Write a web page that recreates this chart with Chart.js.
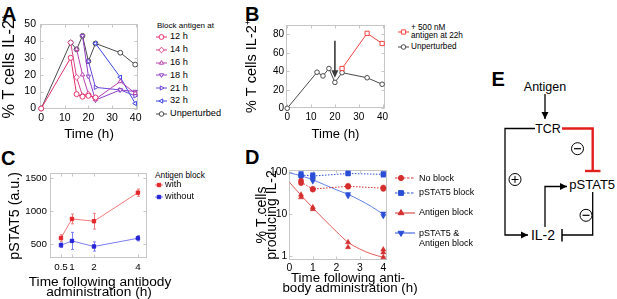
<!DOCTYPE html>
<html>
<head>
<meta charset="utf-8">
<title>IL-2 and pSTAT5 panels</title>
<script src="https://cdn.jsdelivr.net/npm/chart.js@4.4.1/dist/chart.umd.min.js"></script>
<style>
  html, body { margin: 0; padding: 0; background: #fff; }
  body { position: relative; width: 617px; height: 299px; overflow: hidden;
         font-family: 'Liberation Sans', Arial, Helvetica, sans-serif; color: #000; }
  canvas, svg, .t { position: absolute; }
  .t { white-space: nowrap; }
  .panel { position: absolute; font-weight: bold; font-size: 20px; line-height: 20px; }
</style>
</head>
<body>
<div class="panel" style="left:2px;top:4px">A</div>
<div class="panel" style="left:245px;top:4px">B</div>
<div class="panel" style="left:1px;top:147.5px">C</div>
<div class="panel" style="left:245px;top:147px">D</div>
<div class="panel" style="left:491.5px;top:69px">E</div>

<svg width="617" height="299" style="left:0;top:0" font-family="Liberation Sans, Arial, sans-serif">
  <defs>
    <marker id="ah" viewBox="0 0 10 10" refX="10" refY="5" markerWidth="5.5" markerHeight="5.5" orient="auto">
      <path d="M0,0 L10,5 L0,10 z" fill="#000"/>
    </marker>
  </defs>
  <text x="545" y="90.5" font-size="12.5" text-anchor="middle">Antigen</text>
  <line x1="545" y1="94" x2="545" y2="119" stroke="#000" stroke-width="1.3" marker-end="url(#ah)"/>
  <text x="548" y="132.5" font-size="12.5" text-anchor="middle">TCR</text>
  <path d="M535,128.5 H505 V235 H528" fill="none" stroke="#000" stroke-width="1.3" marker-end="url(#ah)"/>
  <circle cx="515" cy="179.5" r="6" fill="#fff" stroke="#000" stroke-width="1"/>
  <path d="M511.5,179.5 H518.5 M515,176 V183" stroke="#000" stroke-width="1"/>
  <path d="M562,128.5 H592.7 V171" fill="none" stroke="#e3211c" stroke-width="2.4"/>
  <path d="M585,171 H600.5" stroke="#e3211c" stroke-width="2.4"/>
  <circle cx="577.5" cy="148.7" r="6" fill="#fff" stroke="#000" stroke-width="1"/>
  <path d="M574,148.7 H581" stroke="#000" stroke-width="1.2"/>
  <text x="569.3" y="189" font-size="13">pSTAT5</text>
  <path d="M545,227 V186.5 H567" fill="none" stroke="#000" stroke-width="1.3" marker-end="url(#ah)"/>
  <path d="M592.7,192 V235 H562" fill="none" stroke="#000" stroke-width="1.3"/>
  <path d="M562,229 V241.5" stroke="#000" stroke-width="1.5"/>
  <circle cx="586" cy="215.3" r="6" fill="#fff" stroke="#000" stroke-width="1"/>
  <path d="M582.5,215.3 H589.5" stroke="#000" stroke-width="1.2"/>
  <text x="543" y="240" font-size="14" text-anchor="middle">IL-2</text>
</svg>

<script>
Chart.defaults.font.family = "'Liberation Sans', Arial, Helvetica, sans-serif";
Chart.defaults.color = '#000';

// ---------- A / B: % T cells IL-2+ over time ----------
const timeUnpert = [0, 12.5, 15, 17.5, 20, 23, 33.5, 39.8];
const unperturbed = [0, 39, 35, 43, 28, 38.5, 33, 26];

const block12Time = [0, 12.5, 15, 17.5, 20, 23];
const block12 = [0, 30, 8.5, 7, 7.5, 6.5];
const block14Time = [12.5, 15, 17.5, 20, 23];
const block14 = [39, 18.5, 7.5, 8.5, 6];
const block16Time = [15, 17.5, 20, 23, 33.5, 39.8];
const block16 = [35, 20, 8.5, 5.5, 16, 9];
const block18Time = [17.5, 20, 23, 33.5, 39.8];
const block18 = [43, 19, 5, 11, 10];
const block21Time = [20, 23, 33.5, 39.8];
const block21 = [28, 12.5, 11, 7.5];
const block32Time = [23, 33.5, 39.8];
const block32 = [38.5, 18.5, 3];
const blockLabels = ['12 h', '14 h', '16 h', '18 h', '21 h', '32 h'];

const antigenTime = [23, 33.5, 39.8];
const antigenAdded = [43, 81, 70];
const arrowAt = 20, arrowTop = 73, arrowTip = 33;

const ticksTime = [0, 10, 20, 30, 40];
const ticksA = [0, 10, 20, 30, 40, 50];
const ticksB = [0, 20, 40, 60, 80];

// ---------- C: pSTAT5 ----------
const timeC = [0.5, 1, 2, 4];
const withBlock = [590, 880, 845, 1280];
const withErr = [50, 75, 120, 55];
const withoutBlock = [480, 545, 460, 585];
const withoutErr = [35, 130, 70, 40];
const ticksCx = [0.5, 1, 2, 4];
const ticksCy = [500, 1000, 1500];

// ---------- D: % T cells producing IL-2 ----------
const timeD = [0.5, 1, 2.5, 4];
const noBlockMean = [58, 39.5, 46, 41.5];
const pstatMean = [86, 81, 93, 89];
const repTime = [0.5, 0.5, 1, 1, 2.5, 2.5, 4, 4];
const noBlockRep = [62, 55, 40, 38.5, 47, 45, 43, 40];
const pstatRep = [92, 82, 86, 77, 95, 92, 92, 86];
const antigenRepTime = [0.5, 0.5, 1, 1, 2.5, 2.5, 4, 4, 4];
const antigenRep = [29, 25, 14.5, 13, 2.1, 1.6, 1.4, 1.2, 0.92];
const bothRep = [80, 74, 68, 61, 30, 27, 10.3, 9];
const fitTime = [0, 0.5, 1, 1.5, 2, 2.5, 3, 3.5, 4];
const antigenFit = [58, 28, 14, 7.2, 3.8, 2.1, 1.45, 1.1, 0.92];
const bothFit = [97, 82, 66, 50, 38, 29.5, 21.5, 15, 9.8];
const ticksDx = [0, 1, 2, 3, 4];
const ticksDy = [1, 10, 100];

// ---------- helpers ----------
const pts = (xs, ys) => xs.map((x, i) => ({x: x, y: ys[i]}));
const tickList = arr => s => { s.ticks = arr.map(v => ({value: v})); };
const fixW = w => s => { s.width = w; };
const fixH = h => s => { s.height = h; };

function place(l, t, w, h) {
  const c = document.createElement('canvas');
  c.width = w; c.height = h;
  Object.assign(c.style, {left: l + 'px', top: t + 'px', width: w + 'px', height: h + 'px'});
  document.body.appendChild(c);
  return c;
}

function axis(o) {
  return {
    type: o.type || 'linear', min: o.min, max: o.max,
    afterFit: o.w != null ? fixW(o.w) : fixH(o.h),
    afterBuildTicks: tickList(o.ticks),
    grid: {display: false, drawTicks: false},
    border: {display: false},
    ticks: {padding: o.pad, font: {size: o.fs}, callback: v => String(v), maxRotation: 0, autoSkip: false},
    title: o.title ? {display: true, text: o.title, font: {size: o.tfs, lineHeight: o.tlh || 1}, padding: o.tpad}
                   : {display: false}
  };
}

function options(pad, scales) {
  return {
    responsive: false, animation: false, events: [], devicePixelRatio: 1,
    layout: {padding: pad},
    plugins: {legend: {display: false}, tooltip: {enabled: false}},
    scales: scales
  };
}

// light box round the plot with small inward ticks
const frame = {
  id: 'frame',
  beforeDatasetsDraw(chart) {
    const {ctx, chartArea: a, scales: {x, y}} = chart;
    const L = Math.round(a.left) + 0.5, R = Math.round(a.right) - 0.5;
    const T = Math.round(a.top) + 0.5, B = Math.round(a.bottom) - 0.5;
    ctx.save();
    ctx.strokeStyle = '#c6c6c6';
    ctx.lineWidth = 1;
    ctx.strokeRect(L, T, R - L, B - T);
    ctx.beginPath();
    x.ticks.forEach(t => {
      const p = Math.round(x.getPixelForValue(t.value)) + 0.5;
      ctx.moveTo(p, B); ctx.lineTo(p, B - 3);
      ctx.moveTo(p, T); ctx.lineTo(p, T + 3);
    });
    y.ticks.forEach(t => {
      const p = Math.round(y.getPixelForValue(t.value)) + 0.5;
      ctx.moveTo(L, p); ctx.lineTo(L + 3, p);
      ctx.moveTo(R, p); ctx.lineTo(R - 3, p);
    });
    ctx.stroke();
    ctx.restore();
  }
};

const errorBars = {
  id: 'errorBars',
  beforeDatasetsDraw(chart) {
    const {ctx, scales: {x, y}} = chart;
    chart.data.datasets.forEach(ds => {
      if (!ds.errors) return;
      ctx.save();
      ctx.strokeStyle = ds.errorColor;
      ctx.lineWidth = 1;
      ds.data.forEach((p, i) => {
        const px = Math.round(x.getPixelForValue(p.x)) + 0.5;
        const top = y.getPixelForValue(p.y + ds.errors[i]);
        const bot = y.getPixelForValue(p.y - ds.errors[i]);
        ctx.beginPath();
        ctx.moveTo(px, top); ctx.lineTo(px, bot);
        ctx.moveTo(px - 1.5, top); ctx.lineTo(px + 1.5, top);
        ctx.moveTo(px - 1.5, bot); ctx.lineTo(px + 1.5, bot);
        ctx.stroke();
      });
      ctx.restore();
    });
  }
};

const arrowPlugin = {
  id: 'arrow',
  afterDatasetsDraw(chart) {
    const {ctx, scales: {x, y}} = chart;
    const px = x.getPixelForValue(arrowAt);
    const y1 = y.getPixelForValue(arrowTop), y2 = y.getPixelForValue(arrowTip);
    ctx.save();
    ctx.strokeStyle = ctx.fillStyle = '#3a3a3a';
    ctx.lineWidth = 1.6;
    ctx.beginPath(); ctx.moveTo(px, y1); ctx.lineTo(px, y2 - 6); ctx.stroke();
    ctx.beginPath(); ctx.moveTo(px - 3.5, y2 - 7.5); ctx.lineTo(px + 3.5, y2 - 7.5); ctx.lineTo(px, y2);
    ctx.closePath(); ctx.fill();
    ctx.restore();
  }
};

function lineSet(data, color, style, rot, r) {
  return {
    data: data, showLine: true, borderColor: color, backgroundColor: color, borderWidth: 1,
    pointStyle: style, pointRotation: rot, pointRadius: r || 2.6, pointBorderWidth: 1,
    pointBackgroundColor: '#fff', pointBorderColor: color, clip: false, tension: 0
  };
}

// ---------- legends in HTML ----------
function shapeMarkup(style, rot, r, cx, cy, stroke, fill) {
  if (style === 'circle')
    return `<circle cx="${cx}" cy="${cy}" r="${r}" stroke="${stroke}" fill="${fill}" stroke-width="1"/>`;
  let p;
  if (style === 'rect') { const s = r * Math.SQRT1_2; p = [[-s, -s], [s, -s], [s, s], [-s, s]]; }
  else if (style === 'rectRot') p = [[0, -r], [r, 0], [0, r], [-r, 0]];
  else p = [0, 120, 240].map(a => { const t = (a + rot) * Math.PI / 180; return [Math.sin(t) * r, -Math.cos(t) * r]; });
  return `<polygon points="${p.map(q => (cx + q[0]).toFixed(2) + ',' + (cy + q[1]).toFixed(2)).join(' ')}" stroke="${stroke}" fill="${fill}" stroke-width="1"/>`;
}

function addKey(x1, x2, cy, k) {
  const w = x2 - x1 + 10;
  const s = document.createElementNS('http://www.w3.org/2000/svg', 'svg');
  s.setAttribute('width', w); s.setAttribute('height', 12);
  s.style.left = (x1 - 5) + 'px'; s.style.top = (cy - 6) + 'px';
  const dash = k.dash ? ` stroke-dasharray="${k.dash}"` : '';
  s.innerHTML = `<line x1="5" y1="6" x2="${w - 5}" y2="6" stroke="${k.line || k.color}" stroke-width="1"${dash}/>` +
    shapeMarkup(k.style, k.rot || 0, k.r || 2.6, k.mx != null ? k.mx - x1 + 5 : w / 2, 6, k.color, k.fill || '#fff');
  document.body.appendChild(s);
}

function addText(txt, x, cy, size, align) {
  const d = document.createElement('div');
  d.className = 't';
  d.textContent = txt;
  d.style.fontSize = size + 'px';
  d.style.lineHeight = size + 'px';
  d.style.top = (cy - size / 2) + 'px';
  if (align === 'center') { d.style.left = (x - 100) + 'px'; d.style.width = '200px'; d.style.textAlign = 'center'; }
  else d.style.left = x + 'px';
  document.body.appendChild(d);
}

// ---------- panel A ----------
const stylesA = [
  ['#e8336b', 'circle', 0], ['#d9438f', 'rectRot', 0], ['#b93fae', 'triangle', 0],
  ['#8f3ec7', 'triangle', 180], ['#6a45d9', 'triangle', 90], ['#3d45e6', 'triangle', -90]
];
const unpertColor = '#4a4a4a';
const blockSeries = [
  pts(block12Time, block12), pts(block14Time, block14), pts(block16Time, block16),
  pts(block18Time, block18), pts(block21Time, block21), pts(block32Time, block32)
];

new Chart(place(0, 0, 146, 146), {
  type: 'scatter',
  data: {
    datasets: blockSeries.map((d, i) => lineSet(d, stylesA[i][0], stylesA[i][1], stylesA[i][2], stylesA[i][1] === 'rectRot' ? 2.9 : 2.5))
      .concat([lineSet(pts(timeUnpert, unperturbed), unpertColor, 'circle', 0, 2.4)])
  },
  options: options({left: 0, top: 24, right: 8, bottom: 5}, {
    x: axis({min: -0.5, max: 41, h: 32.5, ticks: ticksTime, pad: 3, fs: 10.5, title: 'Time (h)', tfs: 13.5, tpad: 0}),
    y: axis({min: 0, max: 50, w: 40, ticks: ticksA, pad: 4, fs: 10.5, title: '% T cells IL-2\u207A', tfs: 16.3, tpad: {top: 1.5, bottom: 0}})
  }),
  plugins: [frame]
});

addText('Block antigen at', 157, 26, 8);
blockLabels.forEach((lab, i) => {
  const cy = 37 + i * 12.8;
  addKey(156, 167, cy, {color: stylesA[i][0], style: stylesA[i][1], rot: stylesA[i][2], r: stylesA[i][1] === 'rectRot' ? 2.8 : 2.4});
  addText(lab, 170, cy, 9.2);
});
addKey(156, 167, 37 + 6 * 12.8, {color: unpertColor, style: 'circle', r: 2.3});
addText('Unperturbed', 170, 37 + 6 * 12.8, 9.2);

// ---------- panel B ----------
const antigenColor = '#ee4040';
new Chart(place(240, 0, 152, 146), {
  type: 'scatter',
  data: {
    datasets: [
      lineSet(pts(antigenTime, antigenAdded), antigenColor, 'rect', 0, 3),
      lineSet(pts(timeUnpert, unperturbed), unpertColor, 'circle', 0, 2.3)
    ]
  },
  options: options({left: 0, top: 25, right: 7, bottom: 5.5}, {
    x: axis({min: -0.5, max: 41, h: 32.2, ticks: ticksTime, pad: 3, fs: 10, title: 'Time (h)', tfs: 13, tpad: 0}),
    y: axis({min: 0, max: 90, w: 46, ticks: ticksB, pad: 2, fs: 10, title: '% T cells IL-2\u207A', tfs: 14.5, tpad: {top: 4.75, bottom: 0}})
  }),
  plugins: [frame, arrowPlugin]
});

addKey(398, 409, 32, {color: antigenColor, style: 'rect', r: 3});
addText('+ 500 nM', 411, 28, 8.2);
addText('antigen at 22h', 411, 36.5, 8.2);
addKey(398, 409, 47, {color: unpertColor, style: 'circle', r: 2.3});
addText('Unperturbed', 411, 47, 8.2);

// ---------- panel C ----------
const withColor = '#e5262b', withLine = '#f27d7d';
const withoutColor = '#2424d6', withoutLine = '#7d7df2';
new Chart(place(0, 150, 152, 149), {
  type: 'scatter',
  data: {
    datasets: [
      {data: pts(timeC, withBlock), errors: withErr, errorColor: withLine, showLine: true,
       borderColor: withLine, borderWidth: 1, pointStyle: 'rect', pointRadius: 2.4,
       pointBackgroundColor: withColor, pointBorderColor: withColor, pointBorderWidth: 1},
      {data: pts(timeC, withoutBlock), errors: withoutErr, errorColor: withoutLine, showLine: true,
       borderColor: withoutLine, borderWidth: 1, pointStyle: 'rect', pointRadius: 2.4,
       pointBackgroundColor: withoutColor, pointBorderColor: withoutColor, pointBorderWidth: 1}
    ]
  },
  options: options({left: 0, top: 23.3, right: 5.3, bottom: 2.3}, {
    x: axis({min: 0, max: 4.4, h: 38.4, ticks: ticksCx, pad: 3, fs: 9.8}),
    y: axis({min: 280, max: 1575, w: 50, ticks: ticksCy, pad: 3, fs: 9.8,
             title: 'pSTAT5 (a.u.)', tfs: 14.3, tpad: {top: 7.85, bottom: 0}})
  }),
  plugins: [frame, errorBars]
});

addText('Time following antibody', 100, 281.7, 13.7, 'center');
addText('administration (h)', 99, 291.7, 13.7, 'center');

addText('Antigen block', 155, 175, 8.3);
addKey(155, 163, 185, {color: withColor, line: withLine, style: 'rect', r: 2.4, fill: withColor});
addText('with', 165, 185, 9.2);
addKey(155, 163, 196.5, {color: withoutColor, line: withoutLine, style: 'rect', r: 2.4, fill: withoutColor});
addText('without', 165, 196.5, 9.2);

// ---------- panel D ----------
const redD = '#d42e2e', redFit = '#e35a5a';
const blueD = '#2a4ed6', blueFit = '#5f80e4';
function dots(data, color, style, rot, r) {
  return {data: data, pointStyle: style, pointRotation: rot, pointRadius: r,
          pointBackgroundColor: color, pointBorderColor: color, pointBorderWidth: 0.5, clip: false};
}
function curve(data, color, dash, smooth) {
  return {data: data, showLine: true, borderColor: color, borderWidth: 1, borderDash: dash || [],
          pointRadius: 0, tension: smooth ? 0.4 : 0, cubicInterpolationMode: smooth ? 'monotone' : 'default'};
}
new Chart(place(245, 150, 147, 149), {
  type: 'scatter',
  data: {
    datasets: [
      dots(pts(repTime, noBlockRep), redD, 'circle', 0, 2.6),
      dots(pts(repTime, pstatRep), blueD, 'rect', 0, 3.2),
      dots(pts(antigenRepTime, antigenRep), redD, 'triangle', 0, 3),
      dots(pts(repTime, bothRep), blueD, 'triangle', 180, 3),
      curve(pts(timeD, noBlockMean), redD, [1.5, 1.5]),
      curve(pts(timeD, pstatMean), blueD, [1.5, 1.5]),
      curve(pts(fitTime, antigenFit), redFit, null, true),
      curve(pts(fitTime, bothFit), blueFit, null, true)
    ]
  },
  options: options({left: 0, top: 20, right: 4.7, bottom: 19}, {
    x: axis({min: 0, max: 4.17, h: 20, ticks: ticksDx, pad: 1.5, fs: 10.4}),
    y: axis({type: 'logarithmic', min: 0.79, max: 113, w: 44.3, ticks: ticksDy, pad: 2, fs: 10.4,
             title: ['% T cells', 'producing IL-2'], tfs: 14, tlh: 0.72, tpad: {top: 11.8, bottom: 0}})
  }),
  plugins: [frame]
});

addText('Time following anti-', 348, 278, 13.3, 'center');
addText('body administration (h)', 350, 288, 13.3, 'center');

addKey(395, 415, 178.3, {color: redD, style: 'circle', r: 2.6, fill: redD, dash: '2.5,1.5', mx: 401});
addText('No block', 419, 178.3, 9);
addKey(395, 415, 192.7, {color: blueD, style: 'rect', r: 3.4, fill: blueD, dash: '2.5,1.5', mx: 401});
addText('pSTAT5 block', 419, 192.7, 9);
addKey(395, 415, 212.7, {color: redD, style: 'triangle', r: 3.4, fill: redD, mx: 401});
addText('Antigen block', 419, 212.7, 9);
addKey(395, 415, 233.3, {color: blueD, style: 'triangle', rot: 180, r: 3.4, fill: blueD, mx: 401});
addText('pSTAT5 &', 419, 233.3, 9);
addText('Antigen block', 419, 243.3, 9);
</script>
</body>
</html>
